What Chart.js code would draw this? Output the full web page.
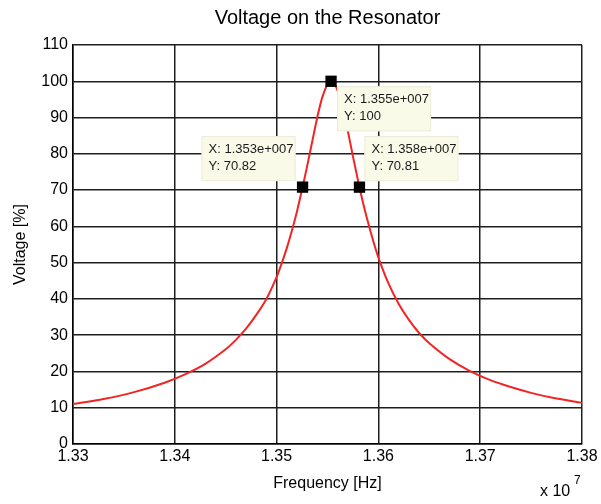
<!DOCTYPE html>
<html>
<head>
<meta charset="utf-8">
<script src="https://cdn.jsdelivr.net/npm/chart.js@4"></script>
<style>
html,body{margin:0;padding:0;background:#fff;}
#wrap{width:601px;height:504px;position:relative;}
</style>
</head>
<body>
<div id="wrap"><canvas id="c" width="601" height="504"></canvas></div>
<script>
// Frequency in units of 1e7 Hz
const freq = [1.330,1.333,1.336,1.339,1.341,1.343,1.345,1.346,1.347,1.348,1.349,1.350,1.3505,1.351,1.3515,1.352,1.35255,1.353,1.3535,1.354,1.3545,1.355,1.35535,1.3556,1.356,1.3565,1.357,1.3575,1.358,1.35814,1.3585,1.359,1.3595,1.360,1.361,1.362,1.363,1.364,1.365,1.367,1.369,1.371,1.373,1.375,1.377,1.380];
const voltage = [11.0,12.4,14.3,16.9,19.2,22.1,26.1,28.7,31.8,35.6,40.0,46.0,49.8,54.0,58.8,64.1,70.82,76.6,83.4,90.1,95.7,99.2,100,99.6,97.4,92.5,86.2,79.3,72.6,70.81,66.4,60.9,55.9,51.4,44.2,38.6,34.2,30.6,27.8,23.4,20.1,17.6,15.7,14.1,12.8,11.3];
const markerX = [1.35255,1.35535,1.35814];
const markerY = [70.82,100,70.81];
const tipText = [["X: 1.353e+007","Y: 70.82"],["X: 1.355e+007","Y: 100"],["X: 1.358e+007","Y: 70.81"]];
const xTicks = [1.33,1.34,1.35,1.36,1.37,1.38];
const yTicks = [0,10,20,30,40,50,60,70,80,90,100,110];
const chartTitle = "Voltage on the Resonator";
const xTitle = "Frequency [Hz]";
const yTitle = "Voltage [%]";
const xExponent = "7";

const FONT = "'Liberation Sans', Arial, sans-serif";

const overlay = {
  id:'overlay',
  afterDatasetsDraw(chart){
    const ctx = chart.ctx;
    const xs = chart.scales.x, ys = chart.scales.y;
    const ca = chart.chartArea;
    ctx.save();
    // title
    ctx.fillStyle = '#000';
    ctx.font = "20px " + FONT;
    ctx.textAlign = 'center';
    ctx.textBaseline = 'middle';
    ctx.fillText(chartTitle, (ca.left+ca.right)/2, 18);
    // exponent label
    ctx.font = "16px " + FONT;
    ctx.textAlign = 'left';
    ctx.textBaseline = 'middle';
    ctx.fillText("x 10", 540, 492);
    ctx.font = "12px " + FONT;
    ctx.fillText(xExponent, 574, 481);
    // data tips
    const place = [
      (mx,my,w,h)=>[mx-7-w, my-6-h],
      (mx,my,w,h)=>[mx+6, my+5],
      (mx,my,w,h)=>[mx+5, my-6-h]
    ];
    for(let i=0;i<markerX.length;i++){
      const mx = xs.getPixelForValue(markerX[i]);
      const my = ys.getPixelForValue(markerY[i]);
      const w = 94, h = 45;
      const [bx,by] = place[i](mx,my,w,h);
      ctx.fillStyle = '#fafae9';
      ctx.fillRect(bx,by,w,h);
      ctx.strokeStyle = '#ececd8';
      ctx.lineWidth = 1;
      ctx.strokeRect(bx+0.5,by+0.5,w-1,h-1);
      ctx.fillStyle = '#1a1a1a';
      ctx.font = "13px " + FONT;
      ctx.textAlign = 'left';
      ctx.textBaseline = 'middle';
      ctx.fillText(tipText[i][0], bx+7, by+13);
      ctx.fillText(tipText[i][1], bx+7, by+30);
    }
    ctx.restore();
  }
};

new Chart(document.getElementById('c'), {
  type:'scatter',
  data:{
    datasets:[
      {
        data: freq.map((f,i)=>({x:f,y:voltage[i]})),
        showLine:true,
        borderColor:'#f22424',
        borderWidth:2,
        pointRadius:0,
        tension:0.3,
        order:2
      },
      {
        data: markerX.map((f,i)=>({x:f,y:markerY[i]})),
        showLine:false,
        pointStyle:'rect',
        pointRadius:8,
        backgroundColor:'#000',
        borderColor:'#000',
        borderWidth:0,
        order:1
      }
    ]
  },
  options:{
    responsive:false,
    animation:false,
    layout:{padding:{top:45,right:19,left:0,bottom:0}},
    plugins:{legend:{display:false},tooltip:{enabled:false},title:{display:false}},
    scales:{
      x:{
        type:'linear',
        min:1.33,max:1.38,
        afterBuildTicks(s){ s.ticks = xTicks.map(v=>({value:v})); },
        afterFit(s){ s.height = 60; },
        grid:{color:'#1e1e1e',lineWidth:1.5,drawTicks:false},
        border:{color:'#000',width:1.5},
        ticks:{color:'#000',font:{size:16,family:FONT},padding:3,maxRotation:0,
          callback:(v)=>Number(v).toFixed(2)},
        title:{display:true,text:xTitle,color:'#000',font:{size:16,family:FONT},padding:{top:0,bottom:11}}
      },
      y:{
        type:'linear',
        min:0,max:110,
        afterBuildTicks(s){ s.ticks = yTicks.map(v=>({value:v})); },
        afterFit(s){ s.width = 73; },
        grid:{color:'#1e1e1e',lineWidth:1.5,drawTicks:false},
        border:{color:'#000',width:1.5},
        ticks:{color:'#000',font:{size:16,family:FONT},padding:5},
        title:{display:true,text:yTitle,color:'#000',font:{size:16,family:FONT},padding:{top:11,bottom:0}}
      }
    }
  },
  plugins:[overlay]
});
</script>
</body>
</html>
